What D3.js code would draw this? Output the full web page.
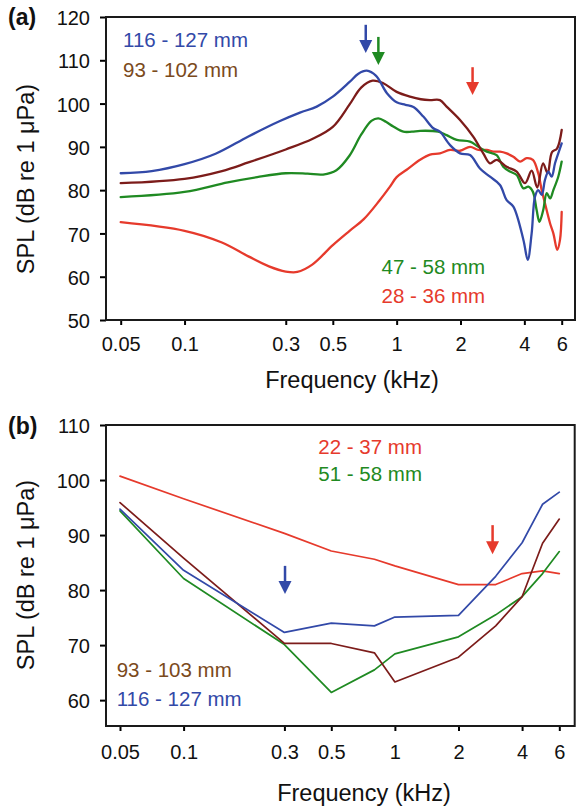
<!DOCTYPE html>
<html>
<head>
<meta charset="utf-8">
<script src="https://cdn.jsdelivr.net/npm/d3@7"></script>
<style>
  body { margin: 0; background: #fff; }
  svg { display: block; }
  text { font-family: "Liberation Sans", Arial, Helvetica, sans-serif; }
</style>
</head>
<body>
<svg id="chart" width="580" height="809"></svg>
<script>
// ---- shared axis ticks ----
const freqTicks = [0.05, 0.1, 0.3, 0.5, 1, 2, 4, 6];
const freqTickLabels = ["0.05", "0.1", "0.3", "0.5", "1", "2", "4", "6"];
const splTicksA = [50, 60, 70, 80, 90, 100, 110, 120];
const splTicksB = [60, 70, 80, 90, 100, 110];

// ---- panel (a): spectra, [frequency kHz, SPL dB] ----
const blueA = [[0.05,83.9],[0.07,84.4],[0.1,86.0],[0.14,88.4],[0.2,92.4],[0.28,95.9],[0.35,97.9],[0.42,99.3],[0.5,101.6],[0.6,105.0],[0.66,106.9],[0.723,107.6],[0.8,106.4],[0.9,102.4],[1.0,100.3],[1.1,99.7],[1.2,99.2],[1.336,97.0],[1.489,94.3],[1.6,93.5],[1.786,90.4],[1.99,88.5],[2.218,88.1],[2.47,85.0],[2.755,83.1],[3.07,81.2],[3.3,77.7],[3.55,76.2],[3.96,68.5],[4.15,63.9],[4.33,70.0],[4.49,78.5],[4.65,80.0],[4.83,78.9],[5.0,82.3],[5.19,84.3],[5.38,83.1],[5.58,86.2],[5.78,88.5],[6.0,90.8]];
const brownA = [[0.05,81.6],[0.1,82.6],[0.15,84.4],[0.2,86.4],[0.3,89.4],[0.4,91.8],[0.5,94.6],[0.6,99.8],[0.68,103.7],[0.77,105.3],[0.865,104.7],[1.0,102.7],[1.156,101.6],[1.3,101.0],[1.436,100.8],[1.6,100.8],[1.72,99.3],[1.99,96.2],[2.3,92.3],[2.56,88.5],[2.755,86.2],[2.96,87.0],[3.3,85.4],[3.68,84.3],[4.03,81.6],[4.33,84.5],[4.6,80.6],[4.9,86.2],[5.15,83.9],[5.4,88.8],[5.7,89.6],[6.0,93.9]];
const greenA = [[0.05,78.4],[0.1,79.6],[0.16,81.8],[0.22,83.0],[0.3,83.9],[0.38,83.8],[0.45,83.6],[0.52,84.6],[0.6,88.0],[0.68,92.8],[0.76,96.0],[0.82,96.6],[0.89,95.8],[0.964,94.7],[1.075,93.5],[1.18,93.5],[1.29,93.7],[1.57,93.5],[1.72,92.7],[1.92,91.6],[2.218,91.2],[2.43,90.0],[2.66,88.9],[2.96,88.1],[3.18,85.4],[3.42,84.3],[3.68,83.5],[3.96,80.4],[4.18,80.8],[4.39,79.6],[4.57,75.4],[4.71,72.7],[4.91,75.4],[5.1,79.3],[5.29,78.1],[5.48,80.0],[5.78,83.1],[6.0,86.6]];
const redA = [[0.05,72.6],[0.1,70.6],[0.15,67.9],[0.2,64.7],[0.25,62.4],[0.3,61.2],[0.34,61.1],[0.4,62.8],[0.5,67.3],[0.6,70.6],[0.7,73.3],[0.83,77.6],[0.93,80.8],[1.0,83.0],[1.115,84.7],[1.29,87.0],[1.436,88.2],[1.6,88.5],[1.786,89.3],[1.99,89.1],[2.218,90.0],[2.43,89.3],[2.66,89.3],[2.86,88.9],[3.07,88.9],[3.3,88.5],[3.55,87.7],[3.82,86.6],[4.1,87.4],[4.39,87.0],[4.65,83.9],[4.83,80.0],[5.0,77.0],[5.29,72.3],[5.48,70.0],[5.72,66.2],[5.89,68.5],[6.0,75.0]];

// peak-frequency markers in (a): frequency, arrow top and tip (dB)
const arrowFreqA = [0.715, 0.82, 2.28];
const arrowTopA  = [118.2, 115.4, 108.4];
const arrowTipA  = [111.7, 108.9, 102.0];

// ---- panel (b): thresholds at the test frequencies ----
const freqB  = [0.05, 0.1, 0.3, 0.5, 0.8, 1, 2, 3, 4, 5, 6];
const redB   = [100.7, 96.6, 90.3, 87.1, 85.6, 84.4, 81.0, 81.0, 83.0, 83.5, 83.0];
const greenB = [94.4, 82.1, 70.1, 61.4, 65.5, 68.4, 71.5, 75.5, 78.8, 83.0, 87.0];
const brownB = [95.9, 85.8, 70.3, 70.3, 68.6, 63.3, 67.8, 73.5, 78.8, 88.5, 92.9];
const blueB  = [94.7, 83.6, 72.3, 74.0, 73.5, 75.1, 75.4, 82.5, 88.6, 95.6, 97.8];

const arrowFreqB = [0.302, 2.9];
const arrowTopB  = [84.4, 91.8];
const arrowTipB  = [79.3, 86.5];

// ---- colours ----
const C = { blue: "#3249a8", brown: "#7c1c1a", green: "#1f8a22", red: "#e63a2c", brownText: "#7b4a1c" };

const svg = d3.select("#chart");

function drawPanel(cfg) {
  const x = d3.scaleLog().domain([0.05, 6]).range(cfg.xRange);
  const y = d3.scaleLinear().domain(cfg.yDomain).range([cfg.bottom, cfg.top]);
  const g = svg.append("g");

  // x axis
  g.append("g")
    .attr("transform", `translate(0,${cfg.bottom})`)
    .call(d3.axisBottom(x).tickValues(freqTicks).tickFormat((d, i) => freqTickLabels[i])
      .tickSizeInner(5).tickSizeOuter(0).tickPadding(cfg.xPad))
    .call(a => {
      a.select(".domain").remove();
      a.selectAll("line").attr("stroke", "#000").attr("stroke-width", 2);
      a.selectAll("text").attr("font-size", 20).attr("fill", "#111")
        .attr("font-family", '"Liberation Sans", Arial, sans-serif');
    });

  // y axis
  g.append("g")
    .attr("transform", `translate(${cfg.left},0)`)
    .call(d3.axisLeft(y).tickValues(cfg.yTicks).tickFormat(d3.format("d"))
      .tickSizeInner(6).tickSizeOuter(0).tickPadding(10))
    .call(a => {
      a.select(".domain").remove();
      a.selectAll("line").attr("stroke", "#000").attr("stroke-width", 2);
      a.selectAll("text").attr("font-size", 20).attr("fill", "#111").attr("dy", "0.38em")
        .attr("font-family", '"Liberation Sans", Arial, sans-serif');
    });

  // frame
  g.append("rect")
    .attr("x", cfg.left).attr("y", cfg.top)
    .attr("width", cfg.right - cfg.left).attr("height", cfg.bottom - cfg.top)
    .attr("fill", "none").attr("stroke", "#1a1a1a").attr("stroke-width", 2);

  // axis titles
  g.append("text")
    .attr("x", cfg.xTitleX).attr("y", cfg.xTitleY)
    .attr("text-anchor", "middle").attr("font-size", 23.5).attr("fill", "#111")
    .text("Frequency (kHz)");
  g.append("text")
    .attr("transform", `translate(34,${cfg.yTitleY}) rotate(-90)`)
    .attr("text-anchor", "middle").attr("font-size", 23.5).attr("fill", "#111")
    .text("SPL (dB re 1 \u03bcPa)");

  // panel letter
  g.append("text")
    .attr("x", 8).attr("y", cfg.letterY)
    .attr("font-size", 23).attr("font-weight", "bold").attr("fill", "#111")
    .text(cfg.letter);

  // series
  const line = d3.line().x(d => x(d[0])).y(d => y(d[1])).curve(cfg.curve);
  cfg.series.forEach(s => {
    g.append("path").datum(s.data)
      .attr("d", line).attr("fill", "none")
      .attr("stroke", s.color).attr("stroke-width", cfg.lineWidth)
      .attr("stroke-linejoin", "round").attr("stroke-linecap", "round");
  });

  // arrows
  cfg.arrows.forEach(a => {
    const ax = x(a.f), yTop = y(a.top), yTip = y(a.tip);
    g.append("line").attr("x1", ax).attr("x2", ax).attr("y1", yTop).attr("y2", yTip - 10)
      .attr("stroke", a.color).attr("stroke-width", 2.5);
    g.append("path")
      .attr("d", `M${ax - 6.5},${yTip - 13} L${ax + 6.5},${yTip - 13} L${ax},${yTip} Z`)
      .attr("fill", a.color);
  });

  // legend labels
  cfg.labels.forEach(l => {
    g.append("text").attr("x", l.x).attr("y", l.y)
      .attr("font-size", 20.5).attr("fill", l.color).text(l.text);
  });
}

drawPanel({
  letter: "(a)", letterY: 25,
  left: 106, right: 575, top: 17, bottom: 320,
  xRange: [120.7, 561.7], yDomain: [50, 120], yTicks: splTicksA,
  xPad: 11.5, xTitleX: 352, xTitleY: 388, yTitleY: 179,
  curve: d3.curveCatmullRom.alpha(0.5), lineWidth: 2.3,
  series: [
    { data: redA, color: C.red },
    { data: greenA, color: C.green },
    { data: brownA, color: C.brown },
    { data: blueA, color: C.blue }
  ],
  arrows: arrowFreqA.map((f, i) => ({ f, top: arrowTopA[i], tip: arrowTipA[i], color: [C.blue, C.green, C.red][i] })),
  labels: [
    { x: 123, y: 47, text: "116 - 127 mm", color: C.blue },
    { x: 123, y: 77, text: "93 - 102 mm", color: C.brownText },
    { x: 381.5, y: 273.5, text: "47 - 58 mm", color: C.green },
    { x: 381.5, y: 303, text: "28 - 36 mm", color: C.red }
  ]
});

const zipB = vals => freqB.map((f, i) => [f, vals[i]]);

drawPanel({
  letter: "(b)", letterY: 434,
  left: 106, right: 574.7, top: 425, bottom: 726,
  xRange: [120, 559.3], yDomain: [55.3, 110], yTicks: splTicksB,
  xPad: 14, xTitleX: 364, xTitleY: 801, yTitleY: 575,
  curve: d3.curveLinear, lineWidth: 1.7,
  series: [
    { data: zipB(redB), color: C.red },
    { data: zipB(greenB), color: C.green },
    { data: zipB(brownB), color: C.brown },
    { data: zipB(blueB), color: C.blue }
  ],
  arrows: arrowFreqB.map((f, i) => ({ f, top: arrowTopB[i], tip: arrowTipB[i], color: [C.blue, C.red][i] })),
  labels: [
    { x: 318.3, y: 454, text: "22 - 37 mm", color: C.red },
    { x: 318.3, y: 480.7, text: "51 - 58 mm", color: C.green },
    { x: 116.7, y: 676.7, text: "93 - 103 mm", color: C.brownText },
    { x: 116.7, y: 706, text: "116 - 127 mm", color: C.blue }
  ]
});
</script>
</body>
</html>
